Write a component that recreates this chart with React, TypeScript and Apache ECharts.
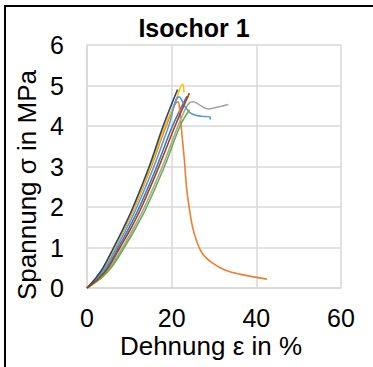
import React, { useEffect, useRef } from "react";
import * as echarts from "echarts";

const chartTitle = "Isochor 1";
const xAxisTitle = "Dehnung ε in %";
const yAxisTitle = "Spannung σ in MPa";

const xMin = 0, xMax = 60, xStep = 20;
const yMin = 0, yMax = 6, yStep = 1;

// Strain (%) and stress (MPa) for each specimen
const blueX = [0, 2.7, 4.7, 7.4, 10.0, 12.4, 16.5, 20.2, 23.6];
const blueY = [0, 0.25, 0.5, 1, 1.5, 2, 3, 4, 4.73];

const orangeX = [0, 2.3, 4.1, 6.6, 9.0, 11.3, 15.2, 18.7, 21.5, 21.9, 22.4, 23.0, 23.5, 24.1, 24.9, 25.8, 27.2, 29.6, 32.7, 36.6, 42.5];
const orangeY = [0, 0.25, 0.5, 1, 1.5, 2, 3, 4, 4.6, 4.4, 3.82, 3.16, 2.5, 2.01, 1.52, 1.19, 0.86, 0.62, 0.44, 0.33, 0.22];

const grayX = [0, 3.2, 5.4, 8.4, 11.1, 13.6, 17.8, 21.5, 23.5, 24.3, 25.1, 26.3, 27.5, 28.7, 30.2, 31.8, 33.4];
const grayY = [0, 0.25, 0.5, 1, 1.5, 2, 3, 4, 4.48, 4.58, 4.6, 4.54, 4.46, 4.42, 4.45, 4.49, 4.53];

const yellowX = [0, 2.2, 4.0, 6.5, 8.9, 11.2, 15.0, 18.4, 20.9, 22.6, 22.9];
const yellowY = [0, 0.25, 0.5, 1, 1.5, 2, 3, 4, 4.6, 5.03, 4.83];

const lightBlueX = [0, 2.5, 4.4, 7.0, 9.5, 11.8, 15.8, 19.3, 21.7, 22.3, 23.0, 24.3, 25.5, 27.0, 29.1, 29.1];
const lightBlueY = [0, 0.25, 0.5, 1, 1.5, 2, 3, 4, 4.72, 4.65, 4.5, 4.33, 4.27, 4.24, 4.22, 4.16];

const greenX = [0, 3.4, 5.7, 8.8, 11.6, 14.1, 18.3, 22.0, 24.2];
const greenY = [0, 0.25, 0.5, 1, 1.5, 2, 3, 4, 4.4];

const darkBlueX = [0, 2.1, 3.8, 6.3, 8.7, 10.9, 14.7, 18.0, 21.4];
const darkBlueY = [0, 0.25, 0.5, 1, 1.5, 2, 3, 4, 4.9];

const brownX = [0, 2.9, 5.0, 7.8, 10.5, 12.9, 17.0, 20.8, 24.2];
const brownY = [0, 0.25, 0.5, 1, 1.5, 2, 3, 4, 4.81];

const seriesNames = ["P1", "P2", "P3", "P4", "P5", "P6", "P7", "P8"];
const seriesColors = ["#4472C4", "#ED7D31", "#A5A5A5", "#FFC000", "#5B9BD5", "#70AD47", "#264478", "#9E480E"];
const seriesX = [blueX, orangeX, grayX, yellowX, lightBlueX, greenX, darkBlueX, brownX];
const seriesY = [blueY, orangeY, grayY, yellowY, lightBlueY, greenY, darkBlueY, brownY];

const FONT = '"Liberation Sans", Arial, sans-serif';

export default function App() {
  const ref = useRef<HTMLDivElement>(null);
  useEffect(() => {
    if (!ref.current) return;
    const chart = echarts.init(ref.current, null, { renderer: "svg" });
    const gridColor = "#d9d9d9";
    chart.setOption({
      animation: false,
      backgroundColor: "#ffffff",
      grid: { left: 87, top: 45, width: 254, height: 243, containLabel: false },
      xAxis: {
        type: "value",
        min: xMin,
        max: xMax,
        interval: xStep,
        axisLine: { show: true, lineStyle: { color: gridColor, width: 1.5 } },
        axisTick: { show: false },
        splitLine: { show: true, lineStyle: { color: gridColor, width: 1.5 } },
        axisLabel: { color: "#000", fontSize: 25, fontFamily: FONT, margin: 17 },
      },
      yAxis: {
        type: "value",
        min: yMin,
        max: yMax,
        interval: yStep,
        axisLine: { show: true, lineStyle: { color: gridColor, width: 1.5 } },
        axisTick: { show: false },
        splitLine: { show: true, lineStyle: { color: gridColor, width: 1.5 } },
        axisLabel: { color: "#000", fontSize: 25, fontFamily: FONT, margin: 23 },
      },
      graphic: [
        {
          type: "text",
          x: 194,
          y: 28,
          style: {
            text: chartTitle,
            fontSize: 25,
            fontWeight: "bold",
            fontFamily: FONT,
            fill: "#000",
            textAlign: "center",
            textVerticalAlign: "middle",
          },
        },
        {
          type: "text",
          x: 211,
          y: 346,
          style: {
            text: xAxisTitle,
            fontSize: 26,
            fontFamily: FONT,
            fill: "#000",
            textAlign: "center",
            textVerticalAlign: "middle",
          },
        },
        {
          type: "text",
          x: 27,
          y: 185,
          rotation: Math.PI / 2,
          style: {
            text: yAxisTitle,
            fontSize: 26,
            fontFamily: FONT,
            fill: "#000",
            textAlign: "center",
            textVerticalAlign: "middle",
          },
        },
      ],
      series: seriesNames.map((name, i) => ({
        name,
        type: "line",
        data: seriesX[i].map((x, j) => [x, seriesY[i][j]]),
        showSymbol: false,
        symbol: "none",
        smooth: 0.4,
        lineStyle: { color: seriesColors[i], width: 1.6 },
        itemStyle: { color: seriesColors[i] },
      })),
    });
    return () => chart.dispose();
  }, []);
  return (
    <div style={{ position: "fixed", left: 0, top: 0, width: 373, height: 367, background: "#fff" }}>
      <div ref={ref} style={{ position: "absolute", left: 0, top: 0, width: 373, height: 367 }} />
      <div
        style={{
          position: "absolute",
          left: 4,
          top: 5,
          width: 380,
          height: 380,
          borderLeft: "2px solid #000",
          borderTop: "2px solid #000",
          pointerEvents: "none",
        }}
      />
    </div>
  );
}
